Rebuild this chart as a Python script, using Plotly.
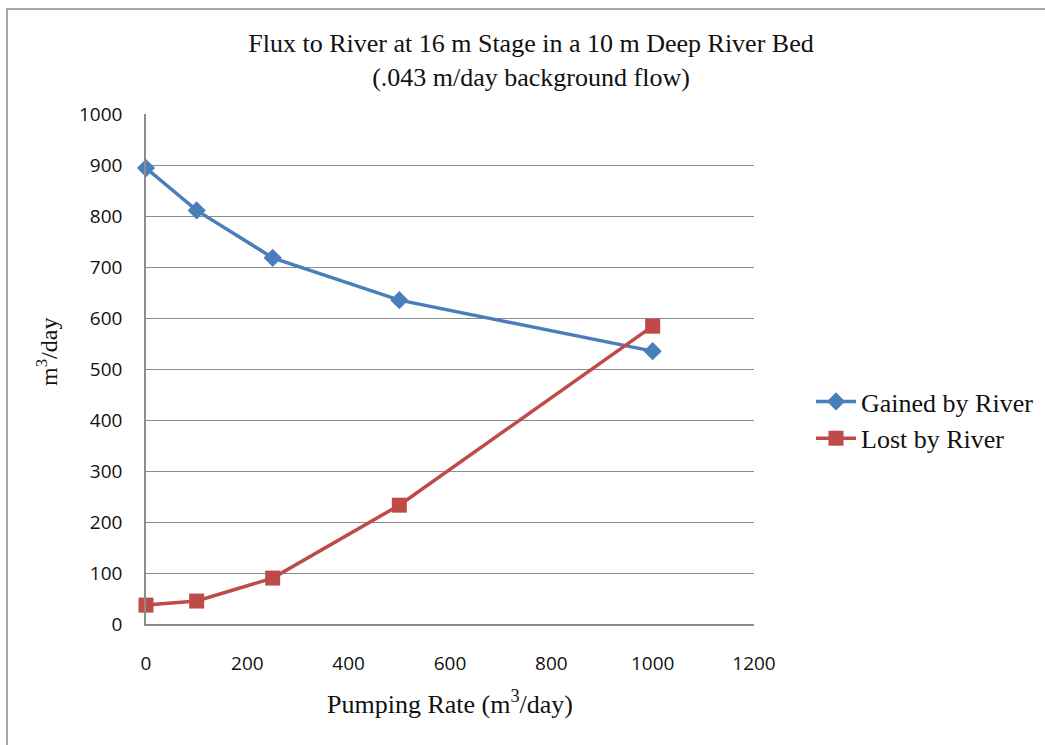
import plotly.graph_objects as go

pumping = [0, 100, 250, 500, 1000]
gained = [894, 811, 718, 635, 535]
lost = [37, 45, 90, 233, 584]

x_ticks = [0, 200, 400, 600, 800, 1000, 1200]
y_ticks = [0, 100, 200, 300, 400, 500, 600, 700, 800, 900, 1000]

blue = "#4A7EBB"
red = "#BE4B48"
serif = "Liberation Serif, Times New Roman, serif"
sans = "Open Sans, Lato, sans-serif"

fig = go.Figure()
fig.add_trace(go.Scatter(
    x=pumping, y=gained, name="Gained by River", mode="lines+markers",
    line=dict(color=blue, width=3.5),
    marker=dict(symbol="diamond", size=14, color=blue),
    cliponaxis=False,
))
fig.add_trace(go.Scatter(
    x=pumping, y=lost, name="Lost by River", mode="lines+markers",
    line=dict(color=red, width=3.5),
    marker=dict(symbol="square", size=15, color=red),
    cliponaxis=False,
))

L, T = 146, 114
W, H = 1045, 745
pw, ph = 754 - 146, 624 - 114

fig.update_layout(
    width=W, height=H,
    margin=dict(l=L, r=W - 754, t=T, b=H - 624, autoexpand=False),
    paper_bgcolor="white", plot_bgcolor="white",
    title=dict(
        text="Flux to River at 16 m Stage in a 10 m Deep River Bed<br>(.043 m/day background flow)",
        x=531 / W, xanchor="center",
        y=1 - 52 / H, yanchor="middle",
        font=dict(family=serif, size=26, color="#111"),
    ),
    xaxis=dict(
        range=[0, 1200], tickvals=x_ticks, showgrid=False,
        showline=True, linecolor="#8c8c8c", linewidth=1.5,
        ticks="", ticklabelstandoff=21,
        tickfont=dict(family=sans, size=19, color="#111"),
        title=dict(text="Pumping Rate (m<sup>3</sup>/day)", standoff=20,
                   font=dict(family=serif, size=26, color="#111")),
        zeroline=False,
    ),
    yaxis=dict(
        range=[0, 1000], tickvals=y_ticks, showgrid=True,
        gridcolor="#8c8c8c", gridwidth=1.2,
        showline=True, linecolor="#8c8c8c", linewidth=1.5,
        ticks="", ticklabelstandoff=18,
        tickfont=dict(family=sans, size=19, color="#111"),
        zeroline=False,
    ),
    legend=dict(
        x=(811 - L) / pw, y=(624 - 420) / ph,
        xanchor="left", yanchor="middle",
        font=dict(family=serif, size=26, color="#111"),
        bgcolor="rgba(0,0,0,0)", itemwidth=40, tracegroupgap=11,
    ),
    showlegend=True,
    annotations=[dict(
        text="m<sup>3</sup>/day", xref="paper", yref="paper",
        x=(47 - L) / pw, y=(624 - 352) / ph, xanchor="center", yanchor="middle",
        textangle=-90, showarrow=False,
        font=dict(family=serif, size=24, color="#111"),
    )],
    shapes=[dict(
        type="rect", xref="paper", yref="paper",
        x0=(7 - L) / pw, x1=(1060 - L) / pw,
        y0=(624 - 760) / ph, y1=(624 - 9) / ph,
        line=dict(color="#8a8a8a", width=1.5), fillcolor="rgba(0,0,0,0)",
        layer="below",
    )],
)

fig.write_html("out.html")
